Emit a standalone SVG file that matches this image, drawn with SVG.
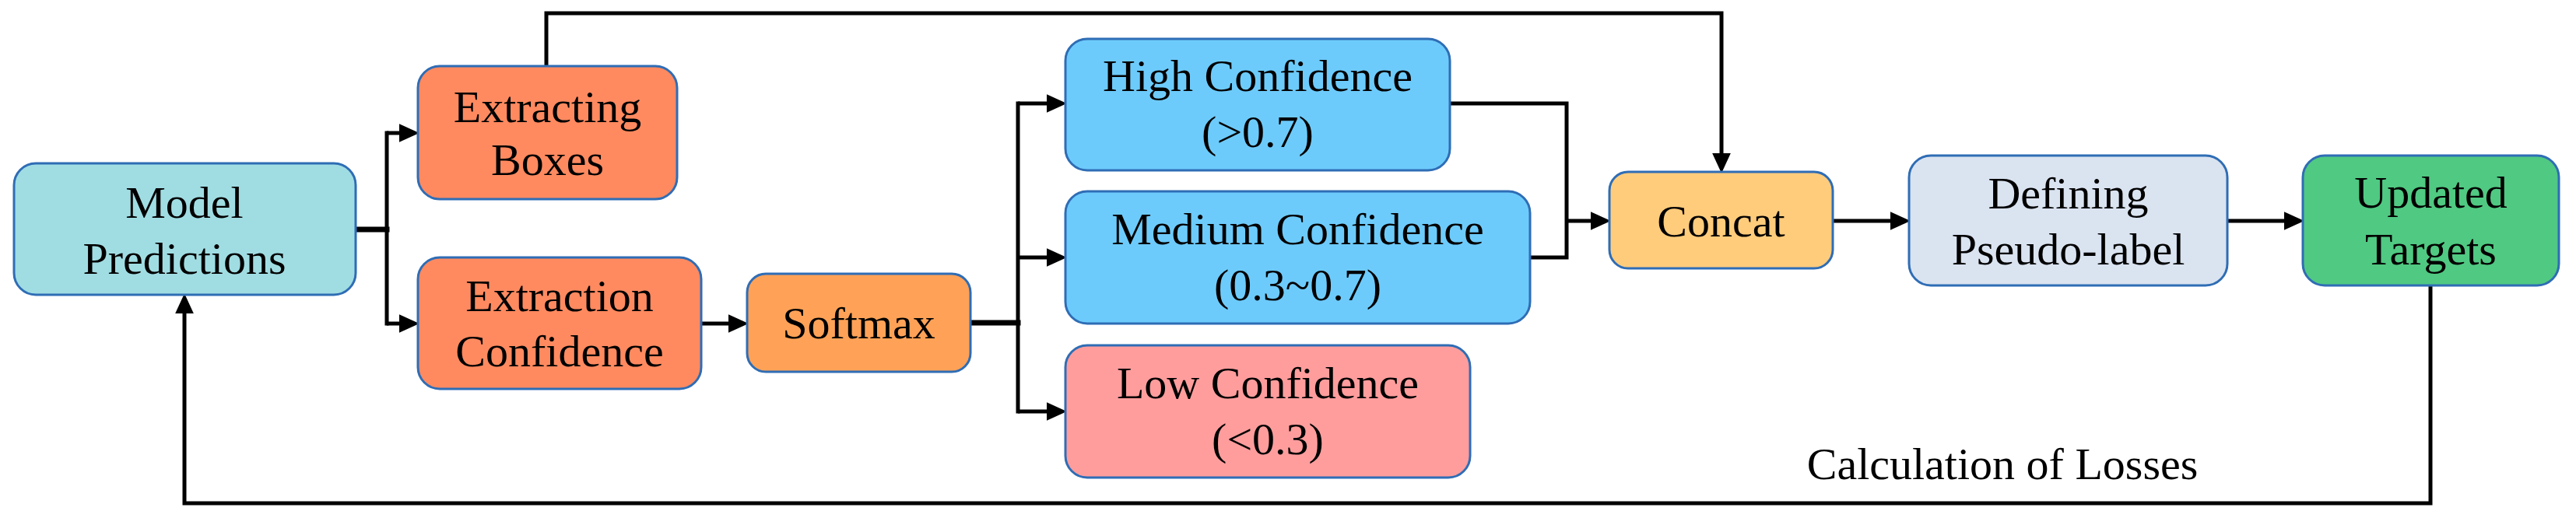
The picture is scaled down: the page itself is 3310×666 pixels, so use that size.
<svg xmlns="http://www.w3.org/2000/svg" width="3310" height="666" viewBox="0 0 3310 666">
<defs>
<style>
.box{stroke:#2F6DB5;stroke-width:3}
.t{font-family:"Liberation Serif","Times New Roman",serif;font-size:58px;fill:#000;text-anchor:middle}
.c{fill:none;stroke:#000;stroke-width:5;stroke-linejoin:miter;stroke-linecap:square}
.ca{fill:none;stroke:#000;stroke-width:5;stroke-linecap:butt;marker-end:url(#ah)}
.thick{stroke-width:7}
</style>
<marker id="ah" markerUnits="userSpaceOnUse" markerWidth="26" markerHeight="26" viewBox="0 0 24 24" refX="2" refY="12" orient="auto">
<path d="M0,1 L24,12 L0,23 z" fill="#000"/>
</marker>
</defs>
<rect width="3310" height="666" fill="#fff"/>
<g id="connectors">
<line class="c thick" x1="457" y1="295" x2="497" y2="295"/>
<line class="c" x1="497" y1="171" x2="497" y2="416"/>
<line class="ca" x1="497" y1="171" x2="515" y2="171"/>
<line class="ca" x1="497" y1="416" x2="515" y2="416"/>
<line class="ca" x1="901" y1="416" x2="938" y2="416"/>
<line class="c thick" x1="1247" y1="415" x2="1308" y2="415"/>
<line class="c" x1="1308" y1="133" x2="1308" y2="529"/>
<line class="ca" x1="1308" y1="133" x2="1347" y2="133"/>
<line class="ca" x1="1308" y1="331" x2="1347" y2="331"/>
<line class="ca" x1="1308" y1="529" x2="1347" y2="529"/>
<polyline class="c" points="1863,133 2013,133 2013,331 1966,331"/>
<line class="ca" x1="2013" y1="284" x2="2046" y2="284"/>
<polyline class="ca" points="702,85 702,17 2212,17 2212,199"/>
<line class="ca" x1="2355" y1="284" x2="2431" y2="284"/>
<line class="ca" x1="2862" y1="284" x2="2937" y2="284"/>
<polyline class="ca" points="3123,367 3123,647 237,647 237,401"/>
<text class="t" x="2573" y="616">Calculation of Losses</text>
</g>
<g id="model-predictions">
<rect class="box" x="18" y="210" width="439" height="169" rx="28" fill="#A0DDE3"/>
<text class="t" x="237" y="280">Model</text>
<text class="t" x="237" y="352">Predictions</text>
</g>
<g id="extracting-boxes">
<rect class="box" x="537" y="85" width="333" height="171" rx="28" fill="#FF8A60"/>
<text class="t" x="703.5" y="157">Extracting</text>
<text class="t" x="703.5" y="225">Boxes</text>
</g>
<g id="extraction-confidence">
<rect class="box" x="537" y="331" width="364" height="169" rx="28" fill="#FF8A60"/>
<text class="t" x="719" y="400">Extraction</text>
<text class="t" x="719" y="471">Confidence</text>
</g>
<g id="softmax">
<rect class="box" x="960" y="352" width="287" height="126" rx="24" fill="#FFA257"/>
<text class="t" x="1103.5" y="435">Softmax</text>
</g>
<g id="high-confidence">
<rect class="box" x="1369" y="50" width="494" height="169" rx="28" fill="#6DCBFB"/>
<text class="t" x="1616" y="117">High Confidence</text>
<text class="t" x="1616" y="189">(&gt;0.7)</text>
</g>
<g id="medium-confidence">
<rect class="box" x="1369" y="246" width="597" height="170" rx="28" fill="#6DCBFB"/>
<text class="t" x="1667.5" y="314">Medium Confidence</text>
<text class="t" x="1667.5" y="386">(0.3~0.7)</text>
</g>
<g id="low-confidence">
<rect class="box" x="1369" y="444" width="520" height="170" rx="28" fill="#FF9D9D"/>
<text class="t" x="1629" y="512">Low Confidence</text>
<text class="t" x="1629" y="584">(&lt;0.3)</text>
</g>
<g id="concat">
<rect class="box" x="2068" y="221" width="287" height="124" rx="24" fill="#FFCC7C"/>
<text class="t" x="2211.5" y="304">Concat</text>
</g>
<g id="defining-pseudo-label">
<rect class="box" x="2453" y="200" width="409" height="167" rx="28" fill="#DAE3F0"/>
<text class="t" x="2657.5" y="268">Defining</text>
<text class="t" x="2657.5" y="340">Pseudo-label</text>
</g>
<g id="updated-targets">
<rect class="box" x="2959" y="200" width="329" height="167" rx="28" fill="#50C982"/>
<text class="t" x="3123.5" y="267">Updated</text>
<text class="t" x="3123.5" y="340">Targets</text>
</g>
</svg>
